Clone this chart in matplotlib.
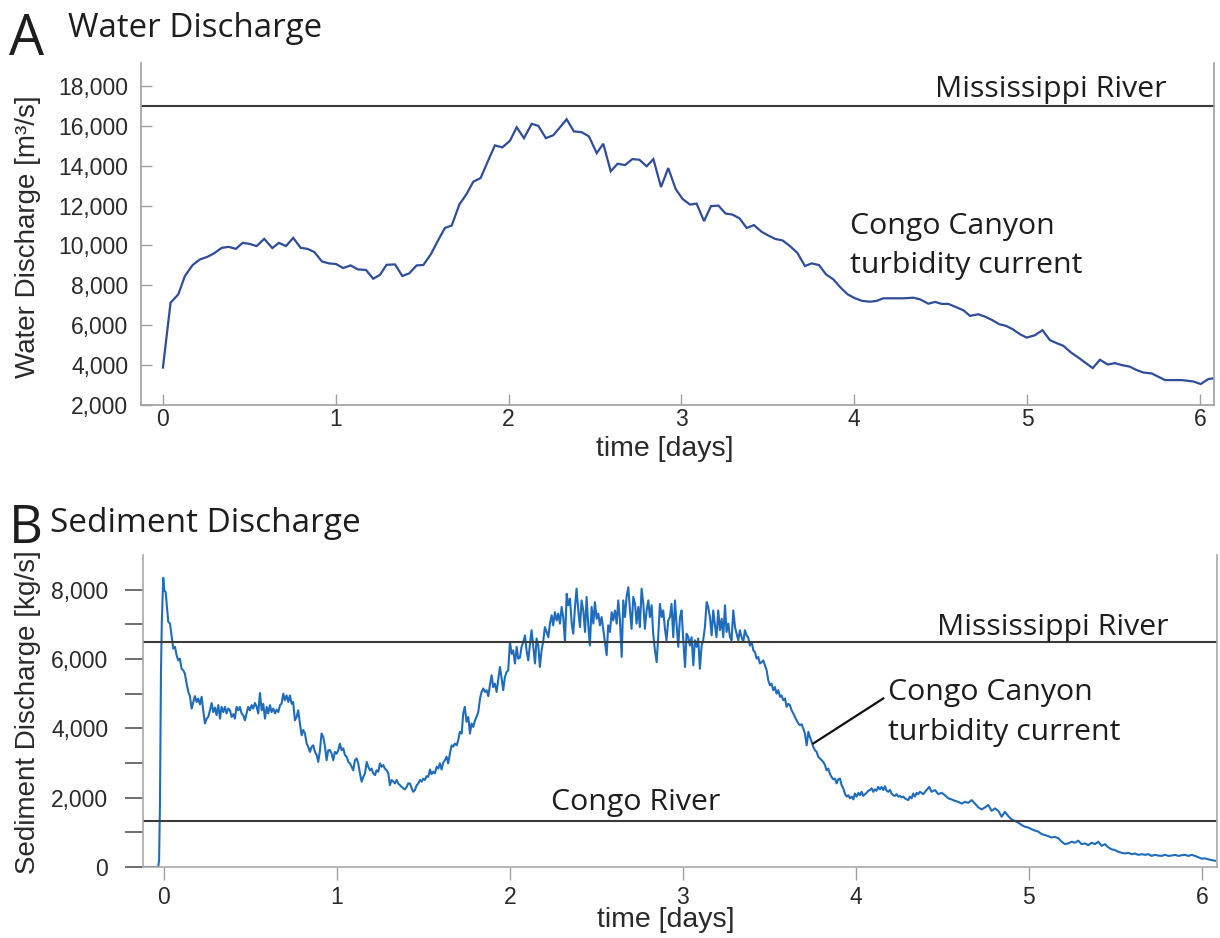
import matplotlib
matplotlib.use("Agg")
import matplotlib.pyplot as plt
from matplotlib.ticker import FixedLocator, FuncFormatter

# ---------------- data ----------------
water_time = [
    0.000, 0.044, 0.089, 0.127, 0.172, 0.214, 0.257, 0.295, 0.340, 0.380, 0.422, 0.461,
    0.500, 0.542, 0.586, 0.633, 0.671, 0.712, 0.754, 0.797, 0.837, 0.876, 0.920, 0.961,
    1.001, 1.043, 1.086, 1.128, 1.175, 1.217, 1.256, 1.294, 1.343, 1.385, 1.425, 1.468,
    1.507, 1.551, 1.593, 1.632, 1.671, 1.715, 1.757, 1.796, 1.838, 1.879, 1.921, 1.964,
    2.008, 2.047, 2.089, 2.134, 2.172, 2.216, 2.259, 2.297, 2.336, 2.378, 2.423, 2.465,
    2.510, 2.548, 2.591, 2.631, 2.674, 2.716, 2.757, 2.799, 2.838, 2.882, 2.924, 2.967,
    3.007, 3.050, 3.088, 3.131, 3.171, 3.214, 3.256, 3.295, 3.335, 3.378, 3.420, 3.465,
    3.503, 3.542, 3.586, 3.628, 3.671, 3.715, 3.754, 3.796, 3.837, 3.879, 3.922, 3.962,
    4.005, 4.047, 4.091, 4.130, 4.168, 4.217, 4.284, 4.342, 4.381, 4.429, 4.468, 4.506,
    4.545, 4.583, 4.632, 4.670, 4.718, 4.757, 4.796, 4.840, 4.878, 4.917, 4.959, 4.998,
    5.046, 5.089, 5.133, 5.172, 5.210, 5.255, 5.297, 5.336, 5.380, 5.422, 5.467, 5.509,
    5.548, 5.592, 5.635, 5.673, 5.722, 5.760, 5.799, 5.847, 5.895, 5.962, 6.005, 6.049,
    6.088,
]
water_flow = [
    3880, 7130, 7550, 8470, 9020, 9300, 9430, 9600, 9880, 9930, 9830, 10130,
    10080, 9970, 10330, 9870, 10130, 9970, 10380, 9880, 9830, 9670, 9200, 9100,
    9070, 8870, 9000, 8800, 8770, 8330, 8530, 9030, 9050, 8470, 8600, 9000,
    9020, 9570, 10270, 10880, 11000, 12050, 12580, 13200, 13380, 14200, 15020, 14920,
    15250, 15930, 15380, 16100, 16000, 15380, 15530, 15920, 16330, 15720, 15680, 15470,
    14630, 15100, 13720, 14100, 14030, 14330, 14300, 13970, 14330, 12930, 13880, 12830,
    12330, 12050, 12100, 11220, 11970, 12000, 11600, 11550, 11370, 10880, 11020, 10680,
    10500, 10330, 10250, 9970, 9630, 8970, 9100, 9020, 8550, 8300, 7880, 7550,
    7350, 7220, 7180, 7220, 7350, 7350, 7350, 7380, 7300, 7080, 7170, 7070,
    7070, 6930, 6750, 6470, 6550, 6430, 6270, 6050, 5970, 5800, 5550, 5380,
    5500, 5750, 5250, 5100, 4970, 4630, 4380, 4130, 3850, 4270, 4030, 4100,
    4000, 3930, 3750, 3630, 3580, 3420, 3250, 3250, 3250, 3180, 3050, 3300,
    3350,
]

sed_time = [
    -0.121, -0.033, -0.028, -0.023, -0.017, -0.012, -0.004, 0.002, 0.010, 0.016, 0.025, 0.035,
    0.044, 0.054, 0.064, 0.073, 0.083, 0.092, 0.102, 0.112, 0.121, 0.131, 0.141, 0.150,
    0.160, 0.170, 0.179, 0.189, 0.198, 0.208, 0.218, 0.227, 0.237, 0.247, 0.256, 0.266,
    0.276, 0.285, 0.295, 0.304, 0.314, 0.324, 0.333, 0.343, 0.353, 0.362, 0.372, 0.382,
    0.391, 0.401, 0.410, 0.420, 0.430, 0.439, 0.449, 0.458, 0.468, 0.478, 0.487, 0.497,
    0.507, 0.516, 0.526, 0.536, 0.545, 0.555, 0.565, 0.574, 0.584, 0.594, 0.603, 0.613,
    0.622, 0.632, 0.642, 0.651, 0.661, 0.671, 0.680, 0.690, 0.699, 0.709, 0.719, 0.728,
    0.738, 0.747, 0.757, 0.767, 0.776, 0.786, 0.796, 0.805, 0.815, 0.825, 0.834, 0.844,
    0.854, 0.863, 0.873, 0.883, 0.892, 0.902, 0.911, 0.921, 0.931, 0.940, 0.950, 0.960,
    0.969, 0.979, 0.988, 0.998, 1.008, 1.017, 1.027, 1.037, 1.046, 1.056, 1.066, 1.075,
    1.085, 1.094, 1.104, 1.114, 1.123, 1.133, 1.143, 1.152, 1.162, 1.172, 1.181, 1.191,
    1.200, 1.210, 1.220, 1.229, 1.239, 1.249, 1.258, 1.268, 1.277, 1.287, 1.297, 1.306,
    1.316, 1.326, 1.335, 1.345, 1.354, 1.364, 1.374, 1.383, 1.393, 1.403, 1.412, 1.422,
    1.432, 1.441, 1.451, 1.461, 1.470, 1.480, 1.490, 1.499, 1.509, 1.518, 1.528, 1.538,
    1.547, 1.557, 1.566, 1.576, 1.586, 1.595, 1.605, 1.614, 1.624, 1.634, 1.643, 1.653,
    1.663, 1.672, 1.682, 1.692, 1.701, 1.711, 1.721, 1.730, 1.739, 1.749, 1.759, 1.769,
    1.778, 1.788, 1.798, 1.807, 1.817, 1.827, 1.836, 1.846, 1.855, 1.865, 1.875, 1.884,
    1.894, 1.903, 1.913, 1.923, 1.932, 1.942, 1.951, 1.961, 1.971, 1.981, 1.990, 2.000,
    2.010, 2.019, 2.029, 2.039, 2.048, 2.058, 2.067, 2.077, 2.087, 2.096, 2.106, 2.116,
    2.125, 2.135, 2.145, 2.154, 2.164, 2.173, 2.183, 2.193, 2.202, 2.212, 2.222, 2.231,
    2.241, 2.250, 2.260, 2.270, 2.279, 2.289, 2.299, 2.308, 2.318, 2.328, 2.337, 2.347,
    2.357, 2.366, 2.376, 2.385, 2.395, 2.405, 2.414, 2.424, 2.434, 2.443, 2.453, 2.462,
    2.472, 2.482, 2.491, 2.501, 2.511, 2.520, 2.530, 2.540, 2.549, 2.559, 2.568, 2.578,
    2.588, 2.597, 2.607, 2.617, 2.626, 2.636, 2.646, 2.655, 2.665, 2.674, 2.684, 2.694,
    2.703, 2.713, 2.723, 2.732, 2.742, 2.751, 2.761, 2.771, 2.780, 2.790, 2.800, 2.809,
    2.819, 2.828, 2.838, 2.848, 2.857, 2.867, 2.877, 2.886, 2.896, 2.905, 2.915, 2.925,
    2.934, 2.944, 2.954, 2.963, 2.973, 2.983, 2.992, 3.002, 3.012, 3.021, 3.031, 3.040,
    3.050, 3.060, 3.069, 3.079, 3.088, 3.098, 3.108, 3.117, 3.127, 3.137, 3.146, 3.156,
    3.166, 3.175, 3.185, 3.194, 3.204, 3.214, 3.224, 3.233, 3.243, 3.252, 3.262, 3.272,
    3.281, 3.291, 3.301, 3.310, 3.320, 3.329, 3.339, 3.349, 3.358, 3.368, 3.377, 3.387,
    3.397, 3.407, 3.416, 3.426, 3.435, 3.445, 3.455, 3.464, 3.474, 3.484, 3.493, 3.503,
    3.512, 3.522, 3.532, 3.541, 3.551, 3.561, 3.570, 3.580, 3.590, 3.599, 3.609, 3.618,
    3.628, 3.638, 3.647, 3.657, 3.667, 3.676, 3.686, 3.696, 3.705, 3.715, 3.725, 3.734,
    3.744, 3.753, 3.763, 3.773, 3.782, 3.792, 3.802, 3.811, 3.821, 3.830, 3.840, 3.850,
    3.859, 3.869, 3.879, 3.888, 3.898, 3.908, 3.917, 3.927, 3.936, 3.946, 3.956, 3.965,
    3.975, 3.985, 3.994, 4.004, 4.014, 4.023, 4.033, 4.042, 4.052, 4.062, 4.071, 4.081,
    4.091, 4.100, 4.110, 4.119, 4.129, 4.139, 4.148, 4.158, 4.168, 4.177, 4.187, 4.197,
    4.206, 4.216, 4.225, 4.235, 4.245, 4.254, 4.264, 4.274, 4.283, 4.293, 4.302, 4.312,
    4.322, 4.331, 4.341, 4.351, 4.360, 4.370, 4.389, 4.408, 4.424, 4.437, 4.457, 4.476,
    4.495, 4.514, 4.534, 4.553, 4.572, 4.591, 4.611, 4.630, 4.649, 4.669, 4.688, 4.707,
    4.727, 4.746, 4.765, 4.784, 4.803, 4.823, 4.842, 4.861, 4.880, 4.900, 4.919, 4.938,
    4.958, 4.977, 4.996, 5.015, 5.035, 5.054, 5.073, 5.092, 5.112, 5.131, 5.150, 5.170,
    5.189, 5.208, 5.227, 5.247, 5.266, 5.285, 5.304, 5.324, 5.343, 5.362, 5.382, 5.401,
    5.420, 5.439, 5.458, 5.478, 5.497, 5.516, 5.536, 5.555, 5.574, 5.593, 5.613, 5.632,
    5.651, 5.671, 5.690, 5.709, 5.728, 5.748, 5.767, 5.786, 5.806, 5.825, 5.844, 5.864,
    5.883, 5.902, 5.921, 5.941, 5.960, 5.979, 5.999, 6.018, 6.037, 6.056, 6.075,
]
sed_flux = [
    0, 0, 200, 1840, 5670, 7110, 8340, 7980, 7930, 7590, 7070, 7020,
    6680, 6300, 6350, 6110, 5960, 6010, 5720, 5670, 5580, 5290, 5050, 4930,
    4570, 4760, 4930, 4760, 4860, 4690, 4910, 4520, 4140, 4280, 4330, 4520,
    4730, 4470, 4600, 4380, 4670, 4280, 4620, 4470, 4620, 4430, 4570, 4520,
    4330, 4410, 4280, 4620, 4520, 4620, 4430, 4380, 4230, 4430, 4620, 4520,
    4670, 4570, 4730, 4620, 4430, 5020, 4520, 4710, 4280, 4620, 4430, 4670,
    4470, 4570, 4430, 4540, 4470, 4670, 4710, 5000, 4810, 4950, 4760, 4950,
    4710, 4760, 4230, 4330, 4520, 4140, 3800, 3950, 3850, 3560, 3470, 3320,
    3470, 3510, 3320, 3230, 3030, 3370, 3850, 3750, 3470, 3080, 3370, 3370,
    3270, 3080, 3320, 3270, 3370, 3560, 3370, 3420, 3230, 3180, 3030, 2990,
    2890, 2790, 3080, 3130, 2990, 2700, 2460, 2600, 2700, 3030, 2890, 2790,
    2840, 2700, 2650, 2790, 2750, 2990, 2890, 2940, 2840, 2790, 2700, 2360,
    2510, 2460, 2410, 2510, 2410, 2360, 2310, 2270, 2240, 2310, 2410, 2410,
    2270, 2170, 2220, 2360, 2410, 2510, 2460, 2550, 2510, 2620, 2600, 2810,
    2680, 2750, 2700, 2890, 2840, 2990, 2810, 3010, 3080, 3180, 2990, 3270,
    3510, 3470, 3560, 3510, 3660, 3900, 3850, 4430, 4620, 4190, 4330, 3850,
    4140, 4040, 4230, 4330, 4470, 4860, 5050, 5150, 5050, 5100, 4930, 5240,
    5530, 5190, 5290, 5050, 5390, 5770, 5480, 5100, 5480, 5630, 5670, 6490,
    6150, 6250, 5870, 6350, 6010, 6040, 6350, 6490, 6680, 6250, 5960, 6440,
    6830, 6350, 5870, 6590, 6390, 5770, 6250, 6540, 6920, 6780, 6630, 7020,
    7260, 6970, 7350, 7110, 7310, 7020, 7500, 7210, 6490, 7880, 7550, 7740,
    7020, 6730, 7500, 8030, 7400, 6920, 7690, 7400, 6780, 7790, 6970, 6390,
    7500, 7020, 7640, 7160, 7310, 6970, 7210, 6830, 6490, 6110, 6970, 6780,
    7350, 7110, 7400, 7020, 7690, 7110, 6060, 7690, 7210, 7790, 8070, 7400,
    6870, 7790, 7590, 7020, 7500, 6920, 8030, 7590, 6870, 7400, 7690, 7210,
    7550, 6730, 6250, 5910, 6630, 7590, 7210, 7400, 6870, 6540, 7110, 7210,
    7590, 6630, 7690, 7020, 6350, 7210, 7400, 6540, 5770, 6730, 6630, 6390,
    6630, 5820, 6540, 6350, 6590, 5720, 6390, 6540, 6920, 7640, 7500, 7210,
    6680, 7400, 6970, 6630, 7400, 6830, 7160, 6630, 7550, 6780, 7020, 6630,
    6540, 7400, 6920, 6730, 6540, 6830, 6630, 6490, 6830, 6680, 6630, 6390,
    6490, 6250, 6200, 6010, 6060, 5870, 5910, 5960, 5820, 5670, 5390, 5240,
    5290, 5100, 5190, 5000, 5100, 4910, 4950, 4810, 4860, 4620, 4710, 4670,
    4520, 4430, 4330, 4230, 4140, 4090, 4120, 3990, 3850, 3510, 3900, 3750,
    3610, 3470, 3370, 3320, 3180, 3130, 3080, 3030, 2940, 2790, 2840, 2680,
    2600, 2530, 2550, 2410, 2530, 2550, 2360, 2270, 2120, 2030, 2070, 1980,
    2030, 1950, 2120, 2030, 2140, 2070, 2170, 2050, 2100, 2140, 2200, 2220,
    2270, 2170, 2240, 2200, 2310, 2240, 2310, 2220, 2330, 2200, 2170, 2220,
    2120, 2070, 2050, 2100, 2030, 2050, 2010, 2030, 1980, 1950, 1930, 2030,
    1980, 2120, 2030, 2140, 2100, 2170, 2100, 2220, 2310, 2170, 2220, 2100,
    2140, 2070, 1980, 1950, 1910, 1880, 1830, 1880, 1850, 1930, 1830, 1720,
    1660, 1720, 1790, 1620, 1690, 1620, 1450, 1590, 1470, 1370, 1330, 1280,
    1210, 1160, 1140, 1090, 1050, 1020, 950, 920, 890, 850, 870, 830,
    730, 660, 680, 730, 700, 760, 660, 680, 630, 700, 660, 730,
    610, 660, 570, 510, 490, 440, 410, 390, 410, 370, 390, 350,
    370, 350, 370, 320, 350, 330, 320, 350, 320, 330, 350, 320,
    340, 350, 320, 350, 320, 280, 240, 250, 220, 200, 180,
]

# reference discharge levels of rivers
mississippi_water = 17000
mississippi_sediment = 6500
congo_sediment = 1320

water_yticks = [2000, 4000, 6000, 8000, 10000, 12000, 14000, 16000, 18000]
sed_yticks = [0, 1000, 2000, 3000, 4000, 5000, 6000, 7000, 8000]
day_ticks = [0, 1, 2, 3, 4, 5, 6]

# ---------------- styling ----------------
W, H = 1220, 938
NOTE_FONT = ["Open Sans", "DejaVu Sans"]
AXIS_FONT = ["Liberation Sans", "DejaVu Sans"]
TEXT_C = "#1e1e1e"
REF_C = "#3a3a3a"
NOTE_SIZE = 21.8

plt.rcParams["font.family"] = AXIS_FONT


def px(x, y):
    return x / W, 1 - y / H


fig = plt.figure(figsize=(W / 100, H / 100), dpi=100)
fig.patch.set_facecolor("white")

# ---------------- panel A ----------------
l, b = px(141, 405)
r, t = px(1214, 63)
axA = fig.add_axes([l, b, r - l, t - b])
axA.plot(water_time, water_flow, color="#2f4d99", lw=1.6, solid_joinstyle="miter")
axA.axhline(mississippi_water, color=REF_C, lw=1.5)
axA.set_xlim(-0.127, 6.082)
axA.set_ylim(2000, 19150)
axA.spines["top"].set_visible(False)
for s in ("left", "bottom", "right"):
    axA.spines[s].set_color("#a0a0a0")
    axA.spines[s].set_linewidth(1.2)
axA.yaxis.set_major_locator(FixedLocator(water_yticks))
axA.yaxis.set_major_formatter(FuncFormatter(lambda v, p: f"{int(v):,}"))
axA.xaxis.set_major_locator(FixedLocator(day_ticks))
axA.tick_params(axis="y", direction="in", length=8, width=1, color="#a0a0a0",
                labelsize=16.5, labelcolor="#2a2a2a", pad=9)
axA.tick_params(axis="x", direction="in", length=8, width=1, color="#a0a0a0",
                labelsize=16.5, labelcolor="#2a2a2a", pad=2.5)

axA.text(4.468, 17450, "Mississippi River", fontsize=NOTE_SIZE, family=NOTE_FONT,
         color=TEXT_C, ha="left", va="baseline")
axA.text(3.976, 10550, "Congo Canyon", fontsize=NOTE_SIZE, family=NOTE_FONT,
         color=TEXT_C, ha="left", va="baseline")
axA.text(3.976, 8600, "turbidity current", fontsize=NOTE_SIZE, family=NOTE_FONT,
         color=TEXT_C, ha="left", va="baseline")

# ---------------- panel B ----------------
l, b = px(143, 867)
r, t = px(1217, 555)
axB = fig.add_axes([l, b, r - l, t - b])
axB.plot(sed_time, sed_flux, color="#1f6cbc", lw=1.5)
axB.axhline(mississippi_sediment, color=REF_C, lw=1.5)
axB.axhline(congo_sediment, color=REF_C, lw=1.5)
axB.set_xlim(-0.121, 6.087)
axB.set_ylim(0, 9000)
axB.spines["top"].set_visible(False)
for s in ("left", "bottom", "right"):
    axB.spines[s].set_color("#a8a8a8")
    axB.spines[s].set_linewidth(1.2)
axB.yaxis.set_major_locator(FixedLocator(sed_yticks))
axB.yaxis.set_major_formatter(
    FuncFormatter(lambda v, p: f"{int(v):,}" if int(v) % 2000 == 0 else ""))
axB.xaxis.set_major_locator(FixedLocator(day_ticks))
axB.tick_params(axis="y", direction="out", length=13, width=1.2, color="#555555",
                labelsize=16.5, labelcolor="#2a2a2a", pad=12)
axB.tick_params(axis="x", direction="out", length=9, width=1, color="#a0a0a0",
                labelsize=16.5, labelcolor="#2a2a2a", pad=5)

axB.text(4.468, 6690, "Mississippi River", fontsize=NOTE_SIZE, family=NOTE_FONT,
         color=TEXT_C, ha="left", va="baseline")
axB.text(4.185, 4810, "Congo Canyon", fontsize=NOTE_SIZE, family=NOTE_FONT,
         color=TEXT_C, ha="left", va="baseline")
axB.text(4.185, 3660, "turbidity current", fontsize=NOTE_SIZE, family=NOTE_FONT,
         color=TEXT_C, ha="left", va="baseline")
axB.text(2.237, 1640, "Congo River", fontsize=NOTE_SIZE, family=NOTE_FONT,
         color=TEXT_C, ha="left", va="baseline")
axB.plot([3.754, 4.158], [3565, 4862], color="#111111", lw=1.6)

# ---------------- titles and axis labels ----------------
fx, fy = px(9, 55)
fig.text(fx, fy, "A", fontsize=40, family=NOTE_FONT, color=TEXT_C, va="baseline")
fx, fy = px(68, 37)
fig.text(fx, fy, "Water Discharge", fontsize=23.8, family=NOTE_FONT, color=TEXT_C,
         va="baseline")
fx, fy = px(9, 543)
fig.text(fx, fy, "B", fontsize=38, family=NOTE_FONT, color=TEXT_C, va="baseline")
fx, fy = px(50, 532)
fig.text(fx, fy, "Sediment Discharge", fontsize=24, family=NOTE_FONT, color=TEXT_C,
         va="baseline")

fx, fy = px(28, 237)
fig.text(fx, fy, "Water Discharge [m³/s]", fontsize=20, rotation=90,
         ha="center", va="center", color="#2a2a2a")
fx, fy = px(28, 712)
fig.text(fx, fy, "Sediment Discharge [kg/s]", fontsize=20, rotation=90,
         ha="center", va="center", color="#2a2a2a")
fx, fy = px(665, 436)
fig.text(fx, fy, "time [days]", fontsize=20.5, ha="center", va="top", color="#2a2a2a")
fx, fy = px(666, 907)
fig.text(fx, fy, "time [days]", fontsize=20.5, ha="center", va="top", color="#2a2a2a")

fig.savefig("out.png", dpi=100, facecolor="white")
